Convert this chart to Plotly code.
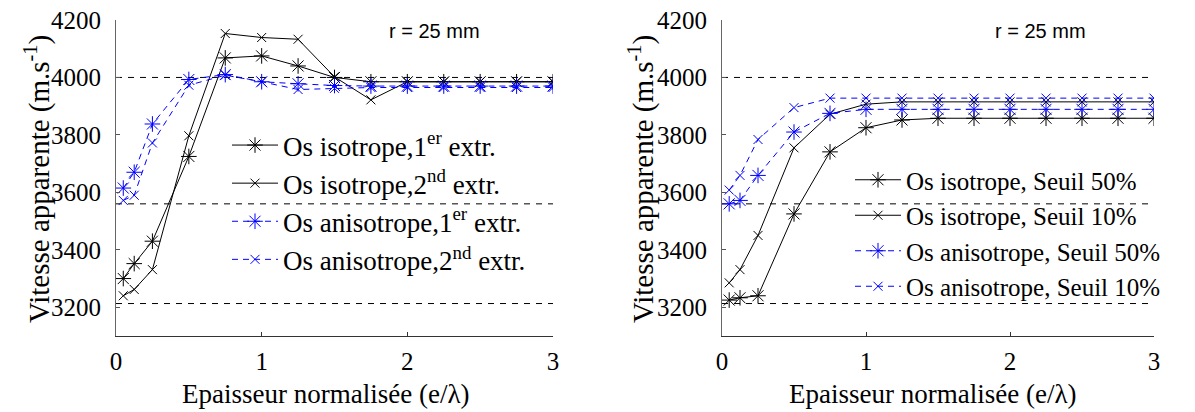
import plotly.graph_objects as go

# ---- data ----
x_pts = [0.05, 0.125, 0.25, 0.5, 0.75, 1, 1.25, 1.5, 1.75, 2, 2.25, 2.5, 2.75, 3]

# left panel (extrema)
iso_1er = [3300, 3352, 3430, 3725, 4068, 4075, 4040, 4000, 3985, 3985, 3985, 3985, 3985, 3985]
iso_2nd = [3240, 3262, 3331, 3797, 4153, 4139, 4133, 4002, 3922, 3985, 3985, 3985, 3985, 3985]
aniso_1er = [3615, 3670, 3838, 3993, 4010, 3985, 3978, 3972, 3970, 3970, 3970, 3970, 3970, 3970]
aniso_2nd = [3572, 3590, 3772, 3973, 4008, 3985, 3958, 3962, 3965, 3965, 3965, 3965, 3965, 3965]

# right panel (thresholds)
iso_s50 = [3225, 3233, 3240, 3525, 3741, 3825, 3852, 3858, 3858, 3858, 3858, 3858, 3858, 3858]
iso_s10 = [3285, 3331, 3450, 3755, 3872, 3907, 3915, 3915, 3915, 3915, 3915, 3915, 3915, 3915]
aniso_s50 = [3560, 3572, 3659, 3810, 3875, 3889, 3889, 3889, 3889, 3889, 3889, 3889, 3889, 3889]
aniso_s10 = [3608, 3659, 3784, 3895, 3928, 3928, 3928, 3928, 3928, 3928, 3928, 3928, 3928, 3928]

ref_levels = [4000, 3560, 3213]
ref_x = [0, 3]

y_ticks = [3200, 3400, 3600, 3800, 4000, 4200]
x_ticks = [0, 1, 2, 3]

left_names = ["Os isotrope,1<sup>er</sup> extr.", "Os isotrope,2<sup>nd</sup> extr.",
              "Os anisotrope,1<sup>er</sup> extr.", "Os anisotrope,2<sup>nd</sup> extr."]
right_names = ["Os isotrope, Seuil 50%", "Os isotrope, Seuil 10%",
               "Os anisotrope, Seuil 50%", "Os anisotrope, Seuil 10%"]

# page body has an 8px margin: figure is drawn offset by 8px
OFF = 8
W, H = 1195 - OFF, 412 - OFF
SERIF = "Liberation Serif, Times New Roman, serif"
BLACK = "#000000"
BLUE = "#0000ff"

fig = go.Figure()

def sx(p):  # screen px -> paper fraction
    return (p - OFF) / W

def sy(p):
    return (H - (p - OFF)) / H

styles = [
    (BLACK, "solid", "asterisk-open", 13),
    (BLACK, "solid", "x-thin-open", 9),
    (BLUE, "6px,5px", "asterisk-open", 13),
    (BLUE, "6px,5px", "x-thin-open", 9),
]

# reference dashed lines
for xa, ya in [("x", "y"), ("x2", "y2")]:
    for lv in ref_levels:
        fig.add_trace(go.Scatter(x=ref_x, y=[lv, lv], mode="lines", xaxis=xa, yaxis=ya,
                                 line=dict(color=BLACK, width=1, dash="6px,6px"),
                                 showlegend=False, hoverinfo="skip"))

for i, (ys, nm) in enumerate(zip([iso_1er, iso_2nd, aniso_1er, aniso_2nd], left_names)):
    c, d, sym, sz = styles[i]
    fig.add_trace(go.Scatter(x=x_pts, y=ys, mode="lines+markers", name=nm,
                             xaxis="x", yaxis="y", legend="legend", legendgroup="L%d" % i,
                             line=dict(color=c, width=1, dash=d),
                             marker=dict(symbol=sym, size=sz, color=c, line=dict(color=c, width=1))))

for i, (ys, nm) in enumerate(zip([iso_s50, iso_s10, aniso_s50, aniso_s10], right_names)):
    c, d, sym, sz = styles[i]
    fig.add_trace(go.Scatter(x=x_pts, y=ys, mode="lines+markers", name=nm,
                             xaxis="x2", yaxis="y2", legend="legend2", legendgroup="R%d" % i,
                             line=dict(color=c, width=1, dash=d),
                             marker=dict(symbol=sym, size=sz, color=c, line=dict(color=c, width=1))))

tickfont = dict(family=SERIF, size=25, color=BLACK)
xcommon = dict(range=[0, 3], tickvals=x_ticks, ticks="inside", ticklen=4, tickcolor="#333",
               showline=True, linecolor="#333", linewidth=1, showgrid=False, zeroline=False,
               tickfont=tickfont, automargin=False, ticklabelstandoff=3,
               ticklabeloverflow="allow")
ycommon = dict(range=[3100, 4200], tickvals=y_ticks, ticks="inside", ticklen=4, tickcolor="#555",
               showline=True, linecolor="#666", linewidth=1, showgrid=False, zeroline=False,
               tickfont=tickfont, automargin=False, ticklabelstandoff=9,
               ticklabeloverflow="allow")

ydom = [sy(336), sy(20)]
fig.update_layout(
    width=W, height=H,
    margin=dict(l=0, r=0, t=0, b=0, autoexpand=False),
    paper_bgcolor="white", plot_bgcolor="white",
    xaxis=dict(domain=[sx(116), sx(553)], anchor="y", **xcommon),
    yaxis=dict(domain=ydom, anchor="x", **ycommon),
    xaxis2=dict(domain=[sx(722), sx(1154)], anchor="y2", **xcommon),
    yaxis2=dict(domain=ydom, anchor="x2", **ycommon),
    legend=dict(x=sx(227), y=sy(121), xanchor="left", yanchor="top",
                bgcolor="rgba(0,0,0,0)", borderwidth=0, itemwidth=46, tracegroupgap=0,
                font=dict(family=SERIF, size=27, color=BLACK)),
    legend2=dict(x=sx(850), y=sy(157), xanchor="left", yanchor="top",
                 bgcolor="rgba(0,0,0,0)", borderwidth=0, itemwidth=46, tracegroupgap=0,
                 font=dict(family=SERIF, size=25, color=BLACK)),
    showlegend=True,
)

annots = []
for xc in [434, 1040]:
    annots.append(dict(text="r = 25 mm", x=sx(xc), y=sy(31), xref="paper", yref="paper",
                       showarrow=False, xanchor="center", yanchor="middle",
                       font=dict(family="Liberation Sans, Arial, sans-serif", size=20, color=BLACK)))
for xc in [37, 641]:
    annots.append(dict(text="Vitesse apparente (m.s<sup>-1</sup>)", x=sx(xc), y=sy(179),
                       xref="paper", yref="paper", showarrow=False, textangle=-90,
                       xanchor="center", yanchor="middle",
                       font=dict(family=SERIF, size=29, color=BLACK)))
for xc in [325, 932]:
    annots.append(dict(text="Epaisseur normalisée (e/λ)", x=sx(xc), y=sy(394),
                       xref="paper", yref="paper", showarrow=False,
                       xanchor="center", yanchor="middle",
                       font=dict(family=SERIF, size=27, color=BLACK)))
fig.update_layout(annotations=annots)

fig.write_html("out.html")
